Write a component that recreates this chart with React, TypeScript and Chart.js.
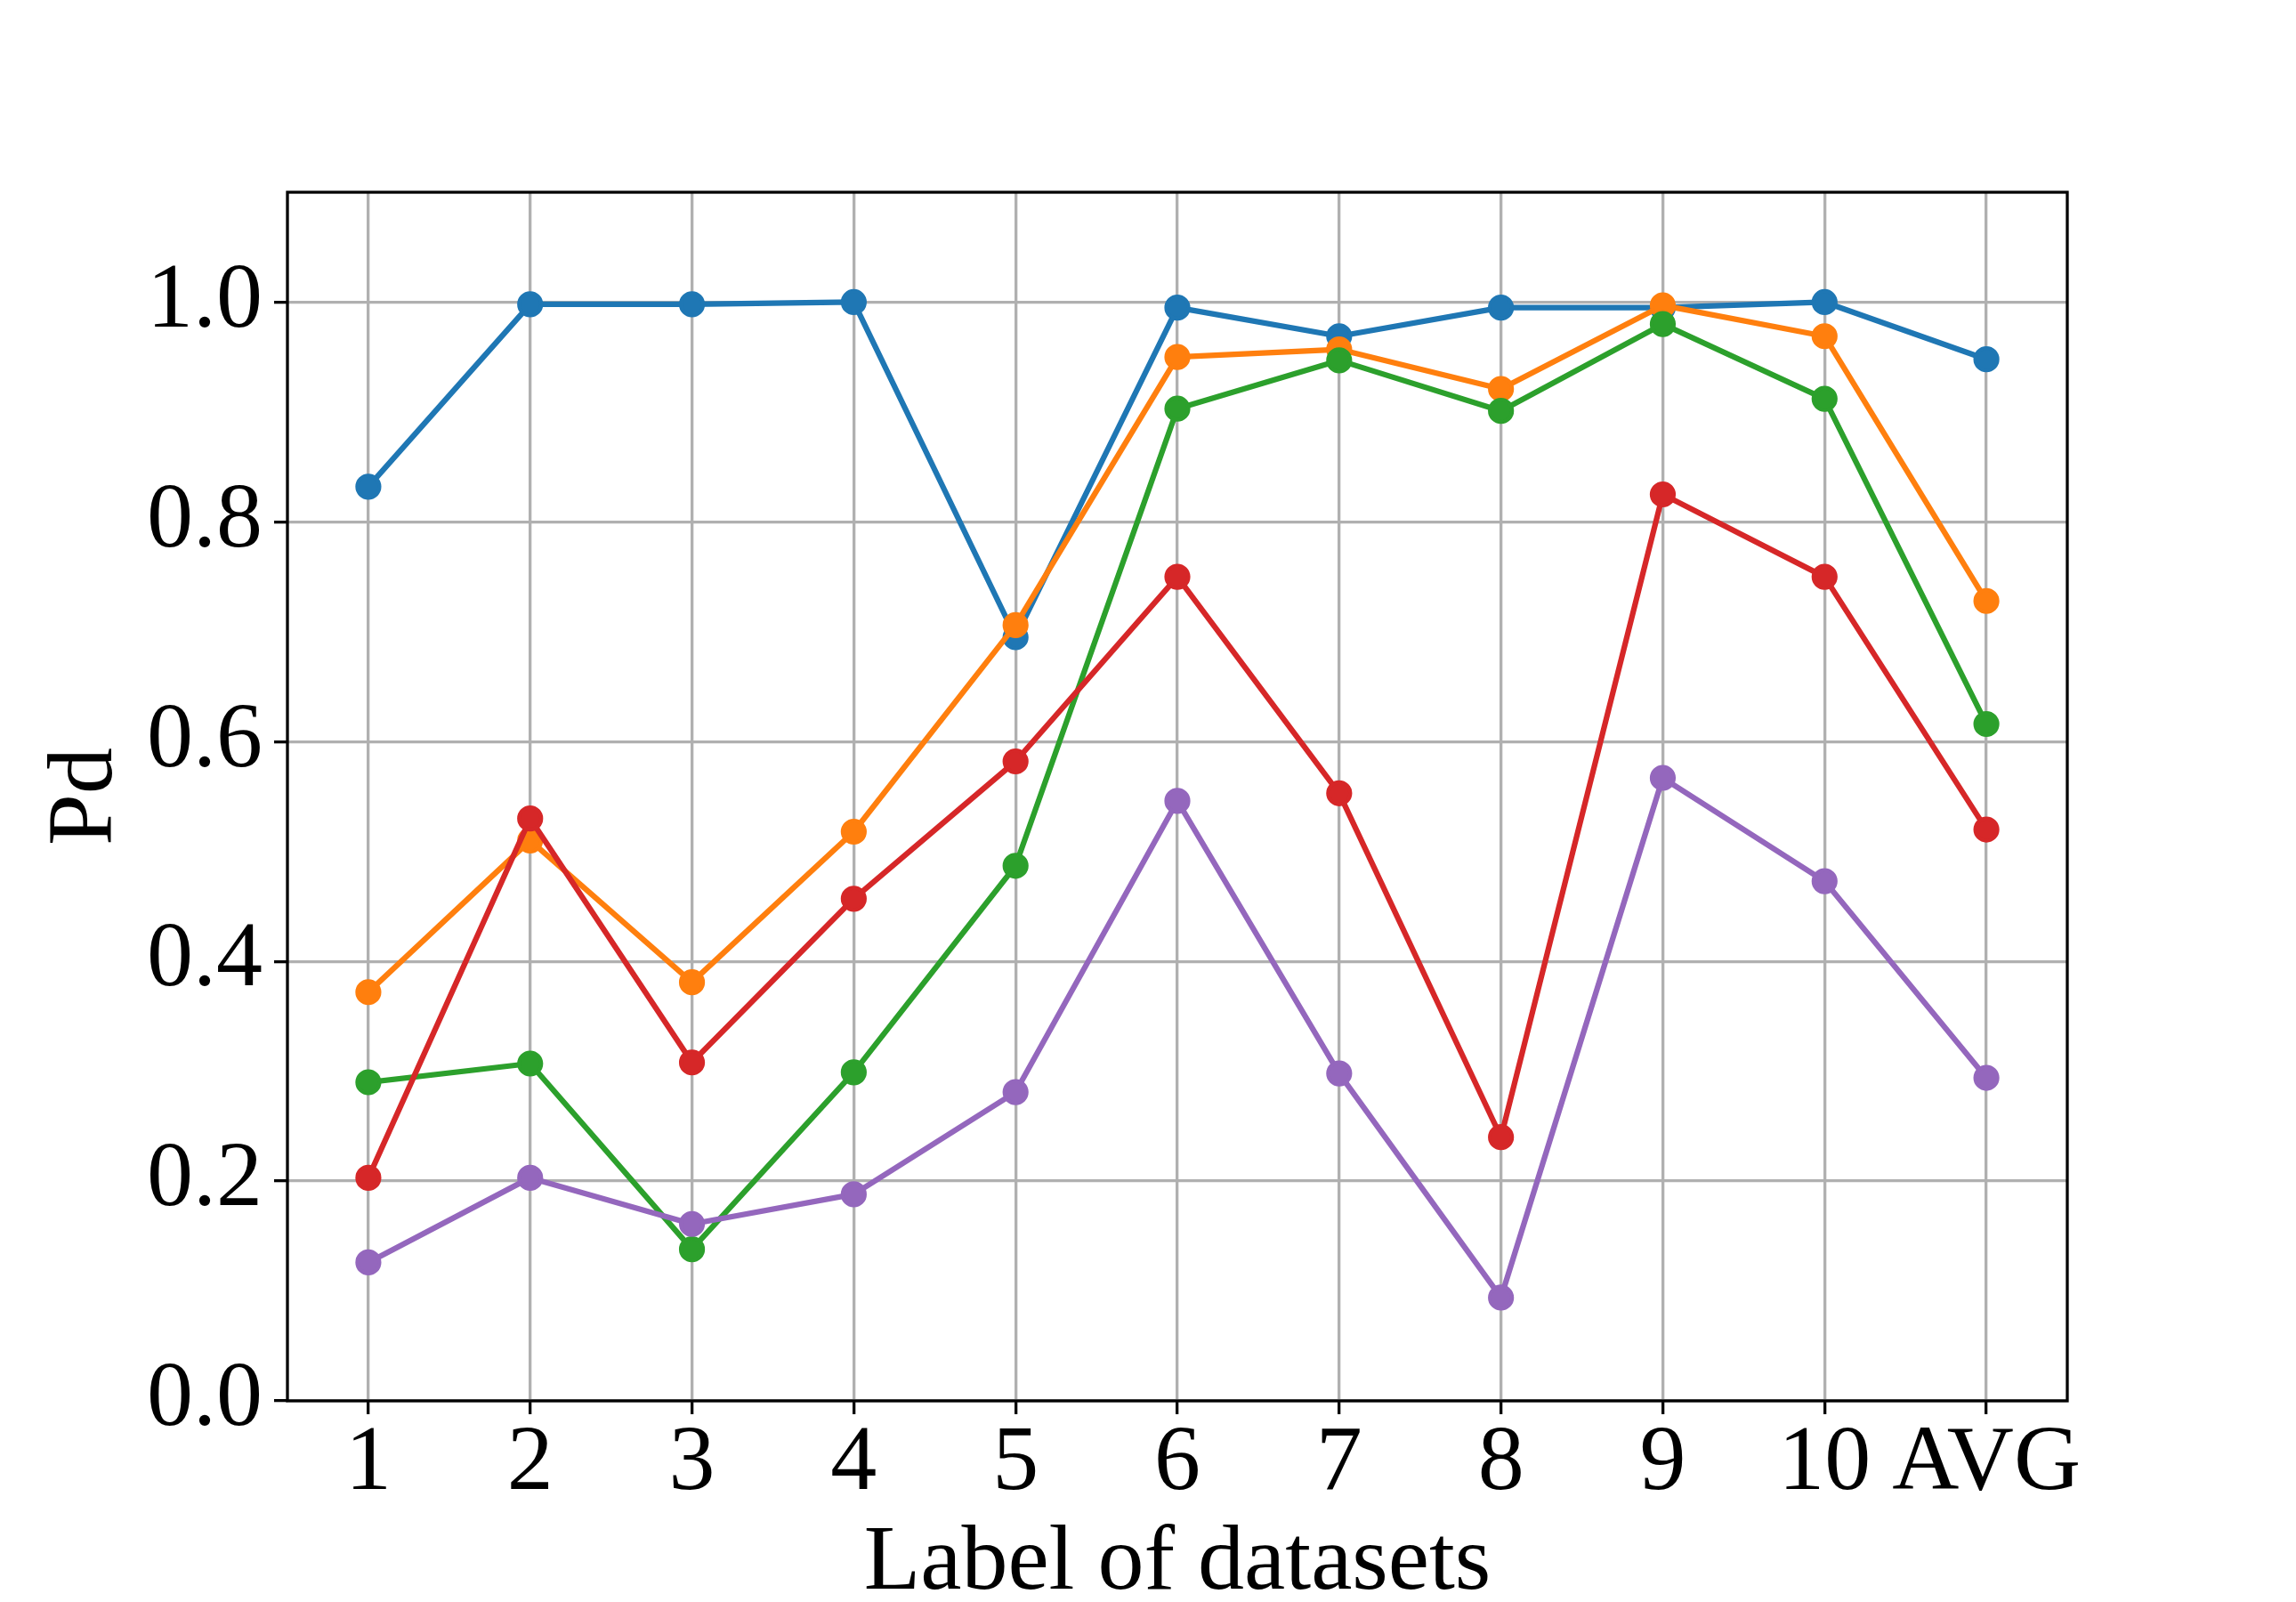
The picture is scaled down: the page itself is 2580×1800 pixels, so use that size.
import React, { useEffect, useRef } from 'react';
import { Chart, registerables } from 'chart.js';

Chart.register(...registerables);

const categories = ['1', '2', '3', '4', '5', '6', '7', '8', '9', '10', 'AVG'];
const seriesBlue = [0.832, 0.998, 0.998, 1.0, 0.695, 0.995, 0.969, 0.995, 0.995, 1.0, 0.948];
const seriesOrange = [0.372, 0.510, 0.381, 0.518, 0.706, 0.950, 0.957, 0.921, 0.997, 0.969, 0.728];
const seriesGreen = [0.290, 0.307, 0.138, 0.299, 0.487, 0.903, 0.947, 0.901, 0.980, 0.912, 0.616];
const seriesRed = [0.203, 0.530, 0.308, 0.457, 0.582, 0.750, 0.553, 0.240, 0.825, 0.750, 0.520];
const seriesPurple = [0.126, 0.203, 0.161, 0.188, 0.281, 0.546, 0.298, 0.094, 0.567, 0.473, 0.294];
const yTickValues = [0.0, 0.2, 0.4, 0.6, 0.8, 1.0];
const xTitle = 'Label of datasets';
const yTitle = 'Pd';

const FONT = "'Liberation Serif', 'Times New Roman', serif";
const FONT_SIZE = 104;

const framePlugin = {
  id: 'frame',
  afterDatasetsDraw(chart: any) {
    const { ctx, chartArea } = chart;
    const { left, top, right, bottom } = chartArea;
    ctx.save();
    ctx.strokeStyle = '#000000';
    ctx.lineWidth = 3.3;
    ctx.lineJoin = 'miter';
    ctx.strokeRect(left, top, right - left, bottom - top);
    ctx.restore();
  },
};

function makeDataset(data: number[], color: string, order: number) {
  return {
    data,
    borderColor: color,
    backgroundColor: color,
    pointBackgroundColor: color,
    pointBorderColor: color,
    borderWidth: 6.25,
    pointRadius: 12.5,
    pointBorderWidth: 4.2,
    pointHoverRadius: 12.5,
    tension: 0,
    fill: false,
    borderJoinStyle: 'round',
    borderCapStyle: 'square',
    order,
  };
}

export default function App() {
  const canvasRef = useRef<HTMLCanvasElement | null>(null);

  useEffect(() => {
    const canvas = canvasRef.current;
    if (!canvas) return;
    const chart = new Chart(canvas, {
      type: 'line',
      data: {
        labels: categories,
        datasets: [
          makeDataset(seriesBlue, '#1f77b4', 4),
          makeDataset(seriesOrange, '#ff7f0e', 3),
          makeDataset(seriesGreen, '#2ca02c', 2),
          makeDataset(seriesRed, '#d62728', 1),
          makeDataset(seriesPurple, '#9467bd', 0),
        ] as any,
      },
      options: {
        responsive: false,
        animation: false,
        devicePixelRatio: 1,
        layout: { padding: { top: 216, right: 257, left: 0, bottom: 0 } },
        plugins: {
          legend: { display: false },
          tooltip: { enabled: false },
        },
        scales: {
          x: {
            type: 'category',
            offset: true,
            border: { display: false },
            grid: {
              color: '#b0b0b0',
              lineWidth: 3.3,
              tickColor: '#000000',
              tickLength: 15,
              tickWidth: 3.3,
              drawTicks: true,
              offset: false,
            },
            ticks: {
              color: '#000000',
              font: { family: FONT, size: FONT_SIZE, lineHeight: 1 },
              padding: 5,
              maxRotation: 0,
              autoSkip: false,
            },
            title: {
              display: true,
              text: xTitle,
              color: '#000000',
              font: { family: FONT, size: FONT_SIZE, lineHeight: 1 },
              padding: { top: 0, bottom: -10 },
            },
            afterFit(scale: any) {
              scale.height = 226;
            },
          },
          y: {
            type: 'linear',
            min: 0,
            max: 1.1,
            border: { display: false },
            grid: {
              color: '#b0b0b0',
              lineWidth: 3.3,
              tickColor: '#000000',
              tickLength: 15,
              tickWidth: 3.3,
              drawTicks: true,
            },
            ticks: {
              color: '#000000',
              font: { family: FONT, size: FONT_SIZE, lineHeight: 1 },
              padding: 13,
              callback: (v: any) => Number(v).toFixed(1),
            },
            afterBuildTicks(scale: any) {
              scale.ticks = yTickValues.map((v) => ({ value: v }));
            },
            title: {
              display: true,
              text: yTitle,
              color: '#000000',
              font: { family: FONT, size: FONT_SIZE, lineHeight: 1 },
              padding: { top: 46, bottom: 0 },
            },
            afterFit(scale: any) {
              scale.width = 323;
            },
          },
        },
      } as any,
      plugins: [framePlugin],
    });
    return () => chart.destroy();
  }, []);

  return (
    <div style={{ position: 'absolute', left: 0, top: 0, width: 2580, height: 1800, background: '#ffffff' }}>
      <canvas ref={canvasRef} width={2580} height={1800} style={{ width: 2580, height: 1800, display: 'block' }} />
    </div>
  );
}
